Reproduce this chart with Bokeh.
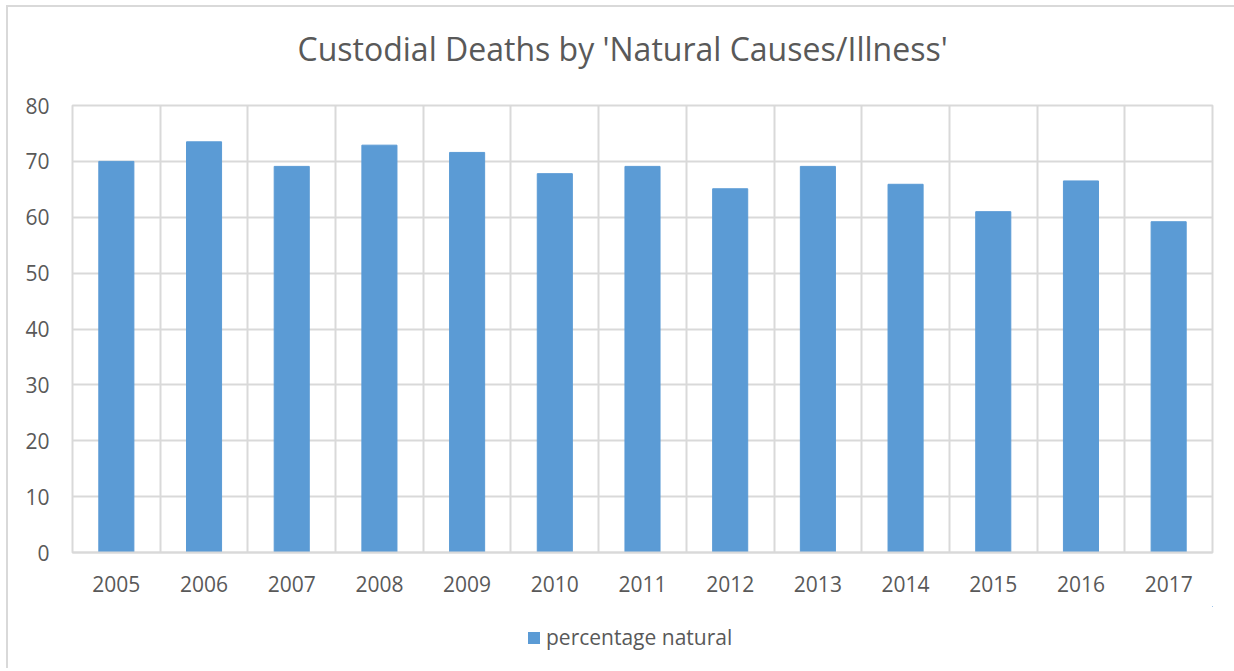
from bokeh.plotting import figure
from bokeh.layouts import column
from bokeh.models import FixedTicker, Legend, LegendItem, ColumnDataSource
from bokeh.embed import file_html
from bokeh.resources import INLINE

years = ["2005", "2006", "2007", "2008", "2009", "2010", "2011", "2012", "2013", "2014", "2015", "2016", "2017"]
percentage_natural = [70.0, 73.5, 69.1, 72.9, 71.6, 67.8, 69.1, 65.1, 69.1, 65.9, 61.0, 66.5, 59.2]
y_ticks = [0, 10, 20, 30, 40, 50, 60, 70, 80]
series_name = "percentage natural"
chart_title = "Custodial Deaths by 'Natural Causes/Illness'"

TEXT = "#595959"
GRID = "#d9d9d9"
BLUE = "#5b9bd5"
FONT = "Open Sans"
W = 1226
BL, BR = 64, 22  # shared frame borders (column aligns frames)

xs = [i + 0.5 for i in range(len(years))]
src = ColumnDataSource(dict(x=xs, top=percentage_natural))

# title strip
p0 = figure(width=W, height=66, output_backend="svg", toolbar_location=None,
            x_axis_location=None, y_axis_location=None,
            min_border_left=BL, min_border_right=BR, min_border_top=62, min_border_bottom=0)
p0.grid.visible = False
p0.outline_line_color = None
p0.title.text = chart_title
p0.title.align = "left"
p0.title.offset = 225
p0.title.text_font = FONT
p0.title.text_font_size = "32px"
p0.title.text_font_style = "normal"
p0.title.text_color = TEXT
p0.title.standoff = 0

# main chart
p = figure(width=W, height=533, output_backend="svg", toolbar_location=None,
           x_range=(0, len(years)), y_range=(0, 80),
           min_border_left=BL, min_border_right=BR, min_border_top=32, min_border_bottom=54)

p.vbar(x="x", top="top", width=0.4, bottom=0, source=src,
       fill_color=BLUE, line_color=BLUE)

p.xaxis.ticker = FixedTicker(ticks=xs)
p.xaxis.major_label_overrides = {x: y for x, y in zip(xs, years)}
p.yaxis.ticker = FixedTicker(ticks=y_ticks)
p.xgrid.ticker = FixedTicker(ticks=list(range(len(years) + 1)))
for ax in (p.xaxis[0], p.yaxis[0]):
    ax.major_tick_line_color = None
    ax.minor_tick_line_color = None
    ax.major_label_text_font = FONT
    ax.major_label_text_font_size = "21px"
    ax.major_label_text_color = TEXT
p.yaxis.axis_line_color = None
p.xaxis.axis_line_color = GRID
p.xaxis.axis_line_width = 2
p.xaxis.major_label_standoff = 17
p.yaxis.major_label_standoff = 17
p.xgrid.grid_line_color = GRID
p.ygrid.grid_line_color = GRID
p.xgrid.grid_line_width = 2
p.ygrid.grid_line_width = 2
p.outline_line_color = GRID
p.outline_line_width = 2

# legend strip below the chart (series kept out of view, only its legend shows)
p2 = figure(width=W, height=62, output_backend="svg", toolbar_location=None,
            x_axis_location=None, y_axis_location=None,
            x_range=(-20, -10), y_range=(-20, -10),
            min_border_left=BL, min_border_right=BR, min_border_top=0, min_border_bottom=0)
p2.grid.visible = False
p2.outline_line_color = None
r2 = p2.vbar(x="x", top="top", width=0.4, bottom=0, source=src,
             fill_color=BLUE, line_color=None)
legend = Legend(items=[LegendItem(label=series_name, renderers=[r2])],
                orientation="horizontal", location="center_left",
                label_text_font=FONT, label_text_font_size="21px", label_text_color=TEXT,
                glyph_width=15, glyph_height=15, border_line_color=None,
                background_fill_alpha=0, margin=454, padding=0, label_standoff=5)
p2.add_layout(legend, "center")

layout = column(p0, p, p2, spacing=0, margin=(5, 0, 0, 6),
                styles={"border-left": "2px solid #d9d9d9", "border-top": "2px solid #d9d9d9"})

open("out.html", "w").write(file_html(layout, INLINE))
